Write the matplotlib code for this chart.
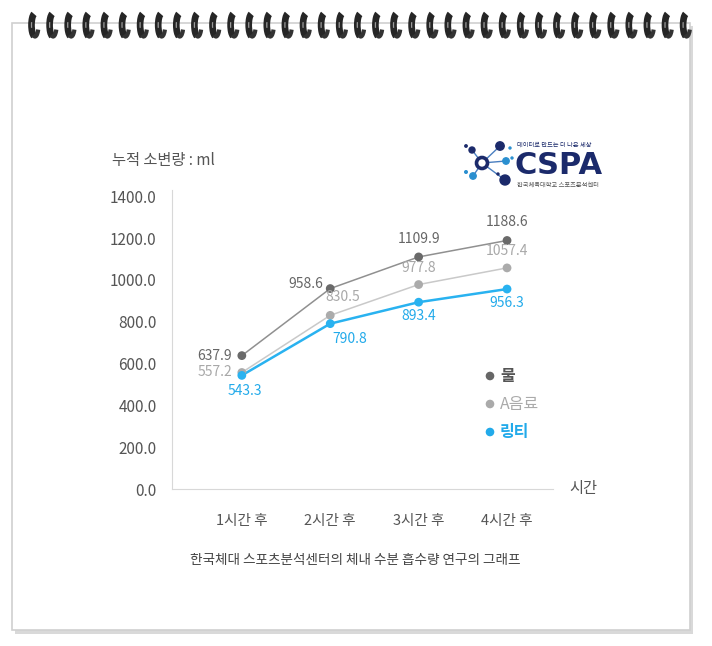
import matplotlib
matplotlib.use("Agg")
import matplotlib.pyplot as plt
from matplotlib.patches import Arc, Rectangle, Circle

plt.rcParams['font.family'] = ['Noto Sans CJK KR', 'DejaVu Sans']

# ---- data ----
categories = ["1시간 후", "2시간 후", "3시간 후", "4시간 후"]
series_names = ["물", "A음료", "링티"]
water = [637.9, 958.6, 1109.9, 1188.6]
drink_a = [557.2, 830.5, 977.8, 1057.4]
lingtea = [543.3, 790.8, 893.4, 956.3]
y_ticks = [0, 200, 400, 600, 800, 1000, 1200, 1400]
y_title = "누적 소변량 : ml"
x_title = "시간"
caption = "한국체대 스포츠분석센터의 체내 수분 흡수량 연구의 그래프"

W, H = 712, 646
fig = plt.figure(figsize=(W / 100, H / 100), dpi=100)
fig.patch.set_facecolor("white")

# ---- decoration layer in pixel coords ----
bg = fig.add_axes([0, 0, 1, 1])
bg.set_xlim(0, W)
bg.set_ylim(H, 0)
bg.axis("off")

# page shadow and border
bg.add_patch(Rectangle((15, 26), 678, 608, facecolor="#d9d9d9", edgecolor="none", zorder=1))
bg.add_patch(Rectangle((12, 23), 678, 607, facecolor="white", edgecolor="#d0d0d0", lw=1.2, zorder=2))

# spiral rings
for i in range(37):
    x = 32 + i * 18.1
    bg.add_patch(Arc((x + 3, 25), 7, 23, theta1=95, theta2=265, lw=4.8, color="#262626", zorder=4))
    bg.add_patch(Arc((x + 3, 25), 7, 23, theta1=55, theta2=100, lw=3.0, color="#333333", zorder=4))
    bg.add_patch(Arc((x + 3, 25), 7, 23, theta1=140, theta2=220, lw=0.9, color="#9a9a9a", zorder=5))

# logo
navy = "#1b2a6b"
cyan = "#2a8fd0"
cx, cy = 482, 163
for (px, py, r, c) in [(500, 146, 4.2, navy), (472, 150, 3.0, navy), (506, 161, 3.2, cyan),
                       (473, 176, 3.2, cyan), (505, 180, 5.0, navy)]:
    bg.plot([cx, px], [cy, py], color="#4a7fc0", lw=1.0, zorder=5)
    bg.add_patch(Circle((px, py), r, color=c, zorder=6))
for (px, py, r, c) in [(466, 172, 1.3, cyan), (466, 146, 1.2, navy), (510, 148, 1.0, cyan),
                       (512, 158, 1.0, cyan), (498, 174, 1.0, navy)]:
    bg.add_patch(Circle((px, py), r, color=c, zorder=6))
bg.add_patch(Circle((cx, cy), 5.5, facecolor="white", edgecolor=navy, lw=2.6, zorder=7))
bg.text(514, 165, "CSPA", fontsize=22, fontweight="bold", color=navy, ha="left", va="center",
        family=["DejaVu Sans"], zorder=7)
bg.text(517, 145, "데이터로 만드는 더 나은 세상", fontsize=4.5, color=navy, ha="left", va="center", zorder=7)
bg.text(517, 185, "한국체육대학교 스포츠분석센터", fontsize=4.5, color="#555555", ha="left", va="center", zorder=7)

# titles and caption
bg.text(112, 160, y_title, fontsize=11, color="#555555", ha="left", va="center", zorder=7)
bg.text(583, 489, x_title, fontsize=11, color="#555555", ha="center", va="center", zorder=7)
bg.text(355, 560, caption, fontsize=9.8, color="#444444", ha="center", va="center", zorder=7)

# ---- chart axes ----
ax = fig.add_axes([172 / W, 1 - 489 / H, (553 - 172) / W, (489 - 190) / H])
ax.patch.set_alpha(0)
ax.set_ylim(0, 1430)
ax.set_xlim(-0.79, 3.52)
xs = list(range(len(categories)))

styles = [
    (water, "#909090", "#6a6a6a", "#666666", 1.1),
    (drink_a, "#c9c9c9", "#ababab", "#a8a8a8", 1.1),
    (lingtea, "#29b2f0", "#29b2f0", "#22aaea", 1.8),
]
for vals, lc, mc, tc, lw in styles:
    ax.plot(xs, vals, color=lc, lw=lw, zorder=3)
    ax.scatter(xs, vals, s=40, color=mc, zorder=4, edgecolors="none")

offsets = [
    [(-7, 0, "right", "center"), (-5, 3, "right", "center"), (0, 8, "center", "bottom"), (0, 8, "center", "bottom")],
    [(-7, 0, "right", "center"), (9, 8, "center", "bottom"), (0, 7, "center", "bottom"), (0, 7, "center", "bottom")],
    [(2, -6, "center", "top"), (14, -6, "center", "top"), (0, -5, "center", "top"), (0, -5, "center", "top")],
]
for (vals, lc, mc, tc, lw), offs in zip(styles, offsets):
    for x, v, (dx, dy, ha, va) in zip(xs, vals, offs):
        ax.annotate(f"{v:.1f}", (x, v), xytext=(dx, dy), textcoords="offset points",
                    ha=ha, va=va, fontsize=10, color=tc, zorder=5)

ax.set_yticks(y_ticks)
ax.set_yticklabels([f"{t:.1f}" for t in y_ticks])
ax.set_xticks(xs)
ax.set_xticklabels(categories)
ax.tick_params(axis="y", length=0, pad=11, labelsize=11, labelcolor="#555555")
ax.tick_params(axis="x", length=0, pad=18, labelsize=10.5, labelcolor="#555555")
for s in ["top", "right"]:
    ax.spines[s].set_visible(False)
ax.spines["left"].set_color("#d8d8d8")
ax.spines["bottom"].set_color("#d8d8d8")

# legend (manual)
leg_colors = ["#666666", "#aaaaaa", "#22aaea"]
leg_text_colors = ["#555555", "#aaaaaa", "#22aaea"]
leg_weights = ["bold", "normal", "bold"]
for i, (name, mc, tcol, fw) in enumerate(zip(series_names, leg_colors, leg_text_colors, leg_weights)):
    y = [376, 404, 432][i]
    bg.add_patch(Circle((490, y), 3.6, color=mc, zorder=7))
    bg.text(500, y, name, fontsize=11.5, color=tcol, fontweight=fw, ha="left", va="center", zorder=7)

fig.savefig("out.png", dpi=100)
